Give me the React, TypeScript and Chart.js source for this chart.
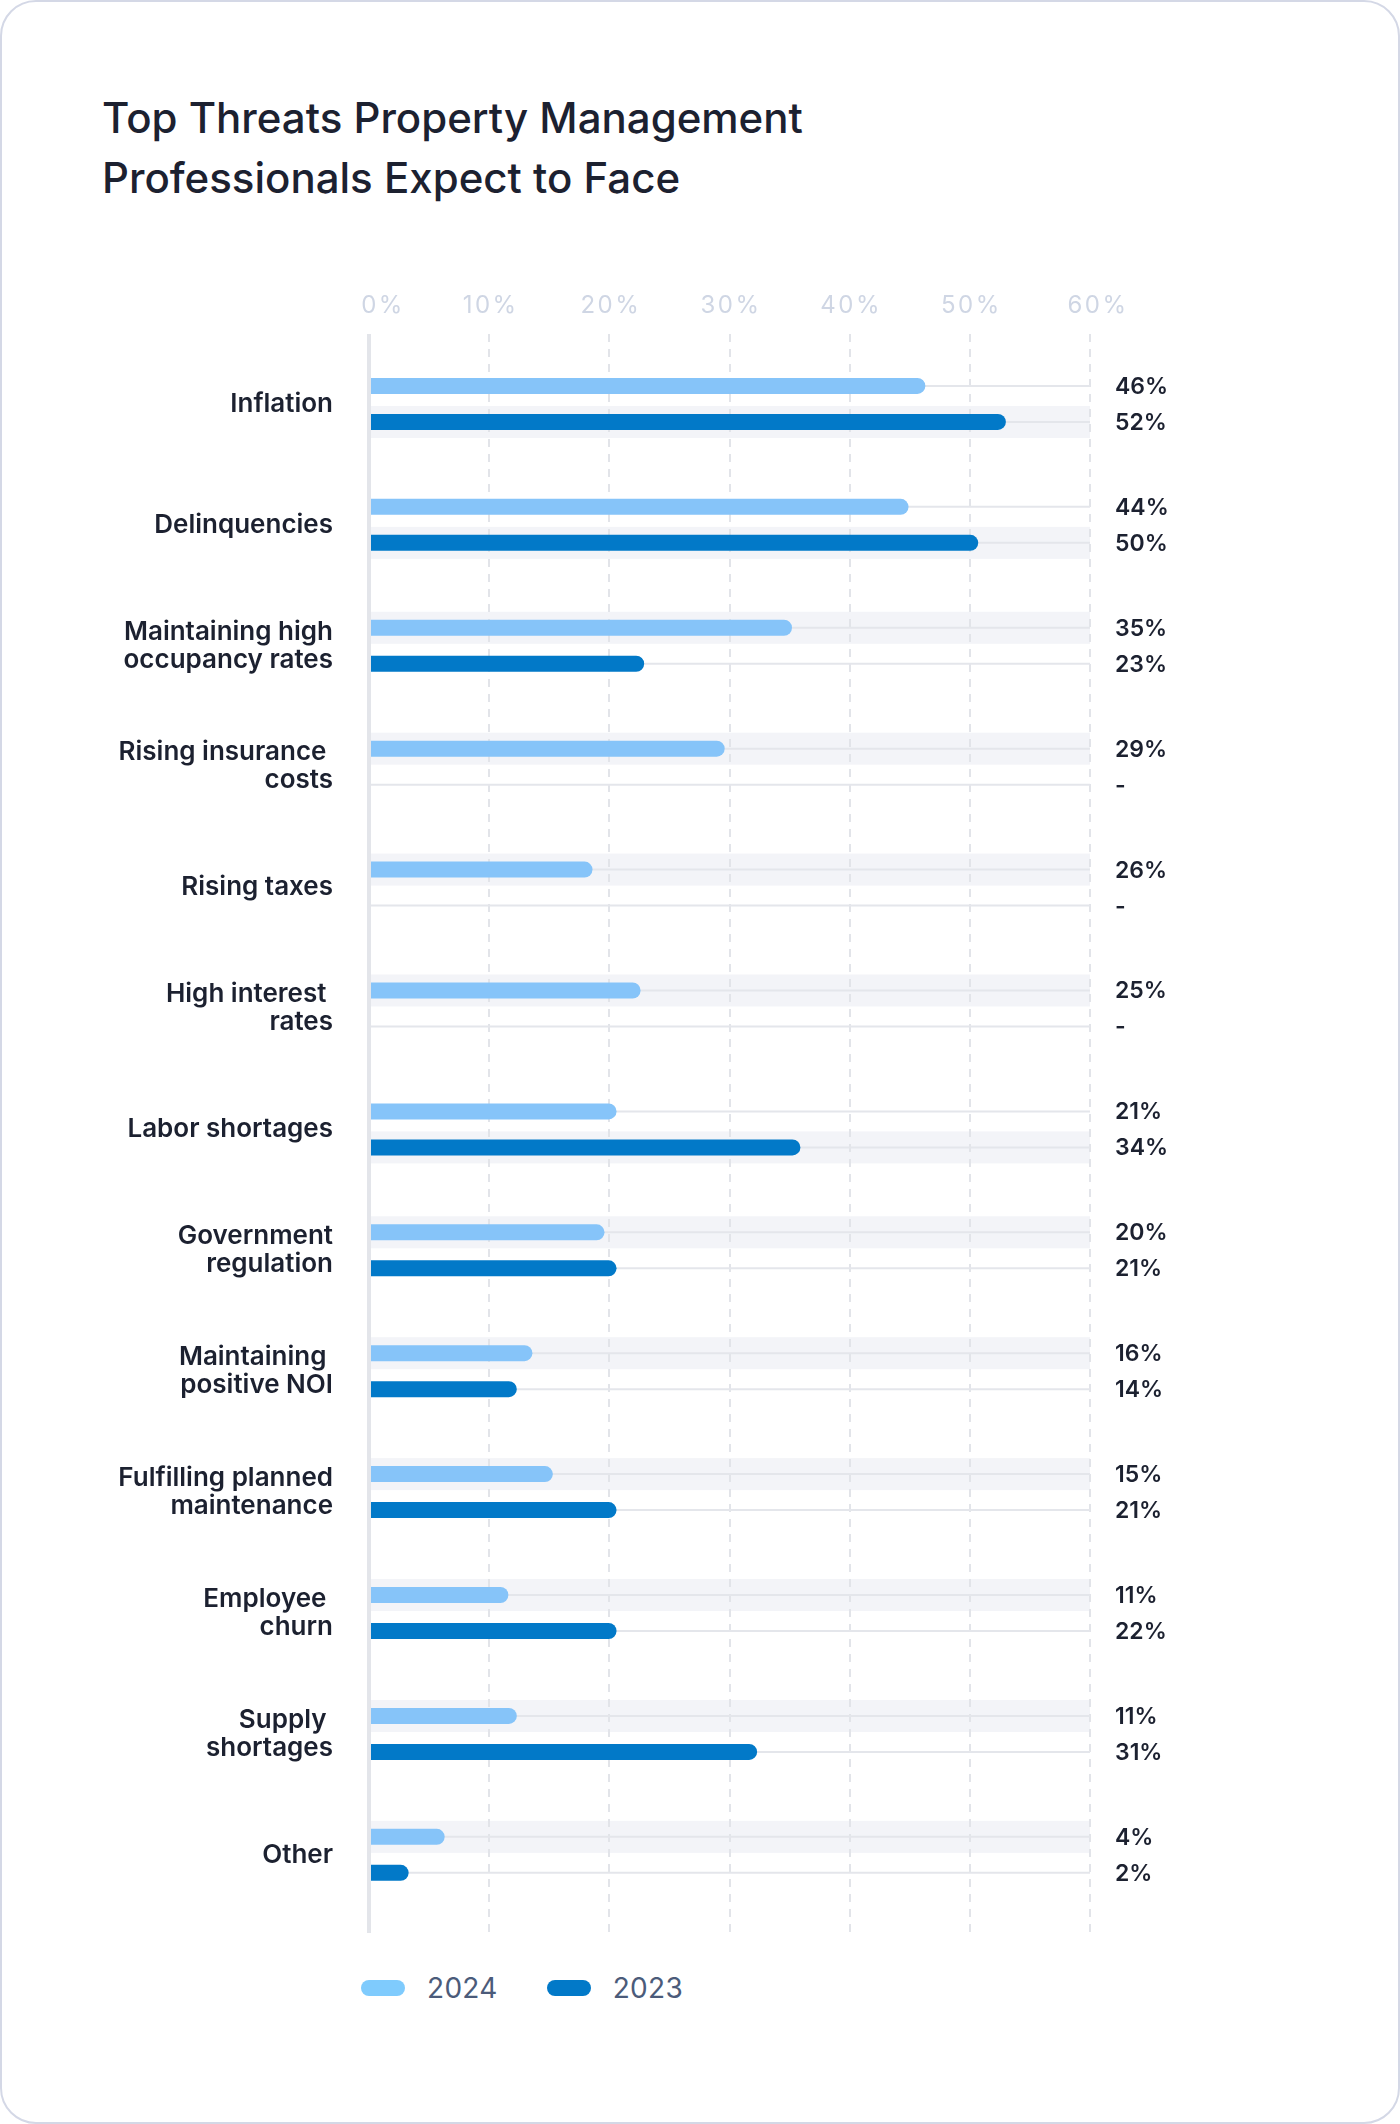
import React, { useEffect, useRef } from "react";
import { Chart, registerables } from "chart.js";

Chart.register(...registerables);

const titleLines = ["Top Threats Property Management", "Professionals Expect to Face"];

const categories: (string | string[])[] = [
  "Inflation",
  "Delinquencies",
  ["Maintaining high", "occupancy rates"],
  ["Rising insurance ", "costs"],
  "Rising taxes",
  ["High interest ", "rates"],
  "Labor shortages",
  ["Government", "regulation"],
  ["Maintaining ", "positive NOI"],
  ["Fulfilling planned", "maintenance"],
  ["Employee ", "churn"],
  ["Supply ", "shortages"],
  "Other",
];

const seriesNames = ["2024", "2023"];
const barColors = ["#86c4f9", "#0279c8"];
const legendColors = ["#7fcbfd", "#0279c8"];

// bar lengths as drawn in the picture
const values2024 = [46.3, 44.9, 35.2, 29.6, 18.6, 22.6, 20.6, 19.6, 13.6, 15.3, 11.6, 12.3, 6.3];
const values2023 = [53.0, 50.7, 22.9, null, null, null, 35.9, 20.6, 12.3, 20.6, 20.6, 32.3, 3.3];

// value labels as printed
const labels2024 = ["46%", "44%", "35%", "29%", "26%", "25%", "21%", "20%", "16%", "15%", "11%", "11%", "4%"];
const labels2023 = ["52%", "50%", "23%", "-", "-", "-", "34%", "21%", "14%", "21%", "22%", "31%", "2%"];

// which series row gets the shaded track band (0 = 2024, 1 = 2023)
const bandSeries = [1, 1, 0, 0, 0, 0, 1, 0, 0, 0, 0, 0, 0];

const xMin = 0;
const xMax = 60;
const xStep = 10;

const TEXT_DARK = "#1c2130";

const decorPlugin = {
  id: "decor",
  beforeDatasetsDraw(chart: any) {
    const { ctx, chartArea, scales } = chart;
    const xs = scales.x;
    const x0 = xs.getPixelForValue(xMin);
    const x1 = xs.getPixelForValue(xMax);
    const top = chartArea.top - 9.5;
    const bottom = chartArea.bottom + 17.7;
    const metas = [chart.getDatasetMeta(0), chart.getDatasetMeta(1)];
    ctx.save();
    // x tick labels (letter-spaced)
    ctx.fillStyle = "#cfd6e4";
    ctx.font = "400 24px Inter";
    try {
      (ctx as any).letterSpacing = "2.5px";
    } catch (e) {}
    ctx.textAlign = "center";
    ctx.textBaseline = "middle";
    const n = xs.ticks.length;
    xs.ticks.forEach((t: any, i: number) => {
      const px = xs.getPixelForValue(t.value);
      const shift = i === 0 ? 14 : i === n - 1 ? 8 : 1.5;
      ctx.fillText(`${t.value}%`, px + shift, chartArea.top - 38);
    });
    try {
      (ctx as any).letterSpacing = "0px";
    } catch (e) {}
    // shaded bands
    ctx.fillStyle = "#f3f4f8";
    categories.forEach((_, i) => {
      const el = metas[bandSeries[i]].data[i];
      if (!el) return;
      ctx.fillRect(x0, el.y - 16, x1 - x0, 32);
    });
    // dashed grid lines
    ctx.strokeStyle = "#e2e4e9";
    ctx.lineWidth = 2;
    ctx.setLineDash([8, 7]);
    for (let v = xMin + xStep; v <= xMax; v += xStep) {
      const px = Math.round(xs.getPixelForValue(v));
      ctx.beginPath();
      ctx.moveTo(px, top);
      ctx.lineTo(px, bottom);
      ctx.stroke();
    }
    ctx.setLineDash([]);
    // thin track lines
    ctx.strokeStyle = "#e4e6eb";
    ctx.lineWidth = 2;
    metas.forEach((m: any) =>
      m.data.forEach((el: any) => {
        ctx.beginPath();
        ctx.moveTo(x0, el.y);
        ctx.lineTo(x1, el.y);
        ctx.stroke();
      })
    );
    ctx.restore();
  },
  afterDatasetsDraw(chart: any) {
    const { ctx, chartArea, scales } = chart;
    const xs = scales.x;
    const x0 = xs.getPixelForValue(xMin);
    const top = chartArea.top - 9.5;
    const bottom = chartArea.bottom + 17.7;
    ctx.save();
    // zero axis line
    ctx.strokeStyle = "#e3e5ea";
    ctx.lineWidth = 4;
    ctx.beginPath();
    ctx.moveTo(x0, top);
    ctx.lineTo(x0, bottom);
    ctx.stroke();
    // value labels
    const labelSets = [labels2024, labels2023];
    ctx.fillStyle = TEXT_DARK;
    ctx.font = "600 23px Inter";
    ctx.textAlign = "left";
    ctx.textBaseline = "middle";
    const lx = xs.getPixelForValue(xMax) + 25;
    [0, 1].forEach((d) => {
      const meta = chart.getDatasetMeta(d);
      meta.data.forEach((el: any, i: number) => {
        ctx.fillText(labelSets[d][i], lx, el.y + 1);
      });
    });
    ctx.restore();
  },
};

function BarChart() {
  const ref = useRef<HTMLCanvasElement | null>(null);
  useEffect(() => {
    if (!ref.current) return;
    const chart = new Chart(ref.current, {
      type: "bar",
      data: {
        labels: categories,
        datasets: [
          {
            label: seriesNames[0],
            data: values2024,
            backgroundColor: barColors[0],
            borderRadius: 8,
            borderSkipped: "start",
            categoryPercentage: 0.5955,
            barPercentage: 0.4444,
          },
          {
            label: seriesNames[1],
            data: values2023 as any,
            backgroundColor: barColors[1],
            borderRadius: 8,
            borderSkipped: "start",
            categoryPercentage: 0.5955,
            barPercentage: 0.4444,
          },
        ],
      },
      options: {
        indexAxis: "y",
        animation: false,
        responsive: true,
        maintainAspectRatio: false,
        layout: { padding: { left: 0, right: 310, top: 0, bottom: 44.7 } },
        plugins: {
          legend: { display: false },
          tooltip: { enabled: false },
          title: { display: false },
        },
        scales: {
          x: {
            position: "top",
            min: xMin,
            max: xMax,
            grid: { display: false },
            border: { display: false },
            ticks: {
              stepSize: xStep,
              autoSkip: false,
              maxRotation: 0,
              display: false,
            },
            afterFit: (scale: any) => {
              scale.height = 83.5;
            },
          },
          y: {
            grid: { display: false },
            border: { display: false },
            ticks: {
              autoSkip: false,
              padding: 28,
              color: TEXT_DARK,
              font: { family: "Inter", size: 26, weight: 600, lineHeight: "28px" as any },
            },
            afterFit: (scale: any) => {
              scale.width = 369;
            },
          },
        },
      },
      plugins: [decorPlugin],
    });
    return () => chart.destroy();
  }, []);
  return <canvas ref={ref} />;
}

export default function App() {
  return (
    <div
      style={{
        position: "absolute",
        left: 0,
        top: 0,
        width: 1400,
        height: 2124,
        boxSizing: "border-box",
        border: "2px solid #d4d8e6",
        borderRadius: 36,
        background: "#ffffff",
        fontFamily: "Inter, sans-serif",
        overflow: "hidden",
      }}
    >
      <div
        style={{
          position: "absolute",
          left: 100,
          top: 86,
          fontSize: 42,
          fontWeight: 500,
          lineHeight: "60px",
          color: TEXT_DARK,
        }}
      >
        {titleLines.map((t) => (
          <div key={t}>{t}</div>
        ))}
      </div>
      <div style={{ position: "absolute", left: -2, top: 258, width: 1400, height: 1700 }}>
        <BarChart />
      </div>
      <div
        style={{
          position: "absolute",
          left: 359,
          top: 1968,
          height: 36,
          display: "flex",
          alignItems: "center",
        }}
      >
        {seriesNames.map((name, i) => (
          <div key={name} style={{ display: "flex", alignItems: "center", marginRight: 49 }}>
            <span
              style={{
                display: "inline-block",
                width: 44,
                height: 16,
                borderRadius: 8,
                background: legendColors[i],
                marginRight: 22,
              }}
            />
            <span style={{ fontSize: 28, color: "#4b5b7a", letterSpacing: 0.3, lineHeight: "36px" }}>{name}</span>
          </div>
        ))}
      </div>
    </div>
  );
}
